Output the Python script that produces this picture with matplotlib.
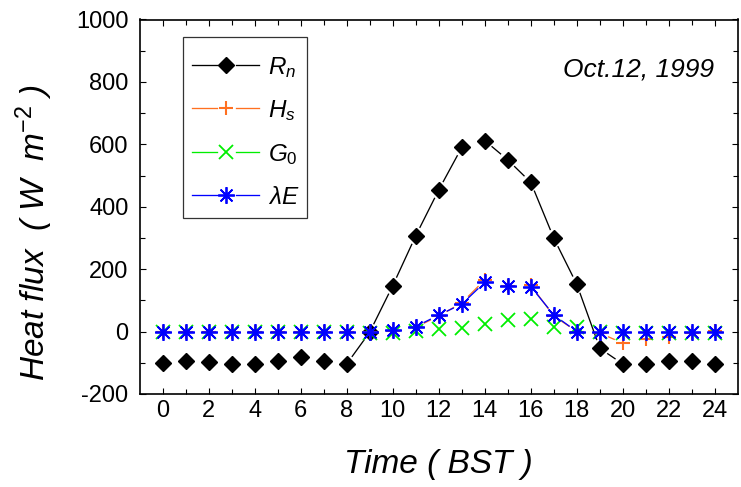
import matplotlib
matplotlib.use("Agg")
import matplotlib.pyplot as plt
from matplotlib.patches import Rectangle
import numpy as np

plt.rcParams['font.family'] = ['Liberation Sans', 'DejaVu Sans']
plt.rcParams['mathtext.fontset'] = 'custom'
plt.rcParams['mathtext.it'] = 'Liberation Sans:italic'
plt.rcParams['mathtext.rm'] = 'Liberation Sans'
plt.rcParams['mathtext.default'] = 'it'
plt.rcParams['axes.unicode_minus'] = False

# hourly fluxes, W m-2
hours = np.arange(0, 25)
Rn = [-102, -93, -98, -104, -104, -93, -82, -93, -104, -2, 147, 307, 454,
      590, 612, 550, 478, 299, 151, -54, -104, -104, -93, -93, -104]
Hs = [0, 0, 0, -2, 0, 0, 0, 0, 0, 0, 3, 14, 50, 92, 166, 147, 148, 50, 0,
      -5, -37, -25, -18, -3, 3]
G0 = [-2, -2, -2, -2, -2, -2, -2, -2, -2, -3, -5, 2, 7, 10, 24, 38, 40, 14,
      15, 0, -4, -4, -4, -3, -3]
LE = [0, 0, 0, 0, 0, 0, 0, 0, 0, 0, 5, 16, 53, 88, 158, 147, 144, 53, 0,
      0, 0, 0, 0, 0, 0]

names = [r'$R_n$', r'$H_s$', r'$G_\mathit{0}$', r'$\lambda E$']
colors = ['black', '#FF7020', '#00EE00', '#0000FF']
markers = ['D', '+', 'x', (8, 2, 0)]
msizes = [8.6, 9.5, 10, 12]
mews = [1, 1.5, 1.3, 1.3]

W, H = 741, 487
fig = plt.figure(figsize=(W / 100, H / 100), dpi=100)
L, R, T, B = 139.5, 738, 19.5, 394
ax = fig.add_axes([L / W, 1 - B / H, (R - L) / W, (B - T) / H])
ax.set_xlim(-1, 25)
ax.set_ylim(-200, 1000)


def gapped(x, y, color, gap=9.5):
    # Origin style: line stops short of each symbol
    pts = ax.transData.transform(np.column_stack([x, y]))
    inv = ax.transData.inverted()
    for a, b in zip(pts[:-1], pts[1:]):
        d = b - a
        n = np.hypot(*d)
        if n < 2 * gap + 6:
            continue
        u = d / n
        seg = inv.transform([a + u * gap, b - u * gap])
        ax.plot(seg[:, 0], seg[:, 1], color=color, lw=0.95, zorder=2)


for ys, c, m, ms, mw in zip([Rn, Hs, G0, LE], colors, markers, msizes, mews):
    gapped(hours, ys, c)
    ax.plot(hours, ys, ls='none', marker=m, ms=ms, color=c, mew=mw, zorder=3)

ax.set_xticks(np.arange(0, 25, 2))
ax.set_xticks(np.arange(0, 25, 1), minor=True)
ax.set_yticks(np.arange(-200, 1001, 200))
ax.set_yticks(np.arange(-200, 1001, 100), minor=True)
ax.tick_params(which='both', direction='in', top=True, right=True,
               labelsize=17, width=0.8)
ax.tick_params(axis='x', which='both', pad=4)
ax.tick_params(axis='y', which='both', pad=8)
ax.tick_params(which='major', length=4.5)
ax.tick_params(which='minor', length=3.5)
for s in ax.spines.values():
    s.set_linewidth(1.2)

ax.set_xlabel('Time ( BST )', fontsize=24, fontstyle='italic')
ax.set_ylabel(r'Heat flux  ( W  m$^{\mathrm{ -2}}$ )', fontsize=24,
              fontstyle='italic')
ax.xaxis.set_label_coords(0.5, -0.147)
ax.yaxis.set_label_coords(-0.141, 0.43)

ax.text((714 - L) / (R - L), (B - 77) / (B - T), 'Oct.12, 1999',
        transform=ax.transAxes, ha='right', va='baseline', fontsize=19,
        fontstyle='italic')


def fx(px):
    return (px - L) / (R - L)


def fy(py):
    return (B - py) / (B - T)


# legend box drawn by hand
ax.add_patch(Rectangle((fx(182.7), fy(218.3)), fx(306.7) - fx(182.7),
                       fy(37.3) - fy(218.3), transform=ax.transAxes,
                       fill=False, lw=0.9, ec='#333333', zorder=4))
rows = [65, 108, 152, 195]
for name, c, m, ms, mw, ry in zip(names, colors, markers, msizes, mews, rows):
    for x0, x1 in [(191.7, 216.7), (236, 259.3)]:
        ax.plot([fx(x0), fx(x1)], [fy(ry), fy(ry)], color=c, lw=0.95,
                transform=ax.transAxes, clip_on=False, zorder=5)
    ax.plot([fx(226)], [fy(ry)], marker=m, ms=ms, mew=mw, color=c,
            transform=ax.transAxes, clip_on=False, zorder=5)
    ax.text(fx(268), fy(ry + 9), name, transform=ax.transAxes, fontsize=17.5,
            va='baseline', ha='left')

fig.savefig('out.png', dpi=100)
